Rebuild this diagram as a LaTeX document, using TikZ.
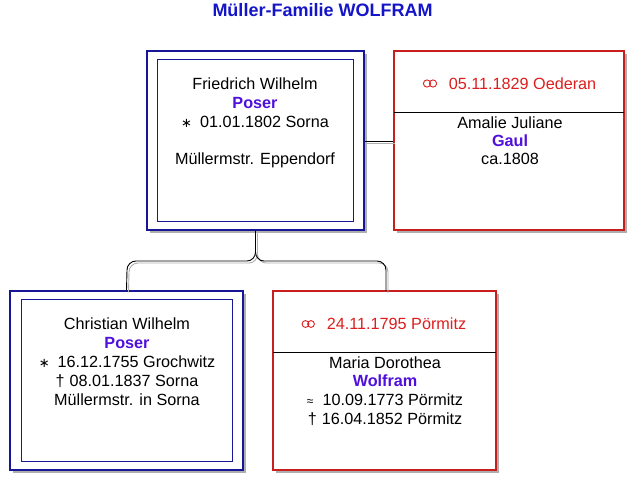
\documentclass[tikz,border=0pt]{standalone}
\usepackage{fontspec}
\setmainfont{Liberation Sans}
\newfontfamily\symf{DejaVu Sans}
\usetikzlibrary{calc}
\definecolor{navyline}{RGB}{22,22,150}
\definecolor{namecol}{RGB}{80,16,220}
\definecolor{redline}{RGB}{200,30,30}
\definecolor{marrcol}{RGB}{222,30,30}
\definecolor{titlecol}{RGB}{20,20,200}
\definecolor{shadowcol}{RGB}{175,175,175}
\tikzset{
  boxshadow/.style={preaction={fill=shadowcol, draw=none, transform canvas={xshift=3pt,yshift=-3pt}}},
  manbox/.style={draw=navyline, line width=1.3pt, fill=white, boxshadow, inner sep=0pt},
  maninner/.style={draw=navyline, line width=1pt, inner sep=0pt},
  wifebox/.style={draw=redline, line width=1.1pt, fill=white, boxshadow, inner sep=0pt},
  txt/.style={font=\fontsize{16.2}{19}\selectfont, anchor=base, inner sep=0pt, text=black},
  nametxt/.style={txt, font=\fontsize{16.2}{19}\selectfont\bfseries, text=namecol},
  marrtxt/.style={txt, text=marrcol},
  ring/.style={draw=marrcol, line width=0.9pt},
  conn/.style={draw=black, line width=0.9pt,
    preaction={draw=shadowcol, line width=0.9pt, transform canvas={xshift=2pt,yshift=-2pt}}},
}
\newcommand{\starsym}{{\symf\fontsize{13}{14}\selectfont ∗}\hspace{8pt}}
\newcommand{\daggersym}{†\hspace{5pt}}
\newcommand{\approxsym}{{\fontsize{12}{14}\selectfont ≈}\hspace{9pt}}
\begin{document}
\begin{tikzpicture}[x=1pt,y=-1pt]
\useasboundingbox (0,0) rectangle (644,490);
\fill[white] (0,0) rectangle (644,490);

% title
\node[anchor=base, inner sep=0pt, font=\fontsize{18}{21}\selectfont\bfseries, text=titlecol] (title) at (322.5,16) {Müller-Familie WOLFRAM};

% boxes
\node[manbox, minimum width=217pt, minimum height=179pt] (A) at (255.5,140.5) {};
\node[maninner, minimum width=196pt, minimum height=162pt] (Ai) at (255,140) {};
\node[wifebox, minimum width=230pt, minimum height=179pt] (B) at (509,140.5) {};
\node[manbox, minimum width=233pt, minimum height=179pt] (C) at (126.5,380.5) {};
\node[maninner, minimum width=211pt, minimum height=162pt] (Ci) at (126.5,380) {};
\node[wifebox, minimum width=223pt, minimum height=179pt] (D) at (384.5,380.5) {};

% dividers in the wife boxes
\coordinate (Bl) at (394,112);
\coordinate (Br) at (624,112);
\draw[black, line width=0.9pt] (Bl) -- (Br);
\coordinate (Dl) at (273,352);
\coordinate (Dr) at (496,352);
\draw[black, line width=0.9pt] (Dl) -- (Dr);

% texts A
\node[txt] (a1) at (255,89) {Friedrich Wilhelm};
\node[nametxt] (a2) at (255,108) {Poser};
\node[txt] (a3) at (255,127) {\starsym 01.01.1802 Sorna};
\node[txt] (a4) at (255,164) {Müllermstr. Eppendorf};

% texts B
\draw[ring] (427,83.5) circle[radius=3.6pt] (433,83.5) circle[radius=3.6pt];
\node[marrtxt] (b0) at (522.5,89) {05.11.1829 Oederan};
\node[txt] (b1) at (510,128) {Amalie Juliane};
\node[nametxt] (b2) at (510,146) {Gaul};
\node[txt] (b3) at (510,164) {ca.1808};

% texts C
\node[txt] (c1) at (127,329) {Christian Wilhelm};
\node[nametxt] (c2) at (127,348) {Poser};
\node[txt] (c3) at (127,367) {\starsym 16.12.1755 Grochwitz};
\node[txt] (c4) at (127,386) {\daggersym 08.01.1837 Sorna};
\node[txt] (c5) at (127,405) {Müllermstr. in Sorna};

% texts D
\draw[ring] (305.5,324) circle[radius=3.4pt] (311,324) circle[radius=3.4pt];
\node[marrtxt] (d0) at (396.5,329) {24.11.1795 Pörmitz};
\node[txt] (d1) at (385,368) {Maria Dorothea};
\node[nametxt] (d2) at (385,386) {Wolfram};
\node[txt] (d3) at (385,405) {\approxsym 10.09.1773 Pörmitz};
\node[txt] (d4) at (385,424) {\daggersym 16.04.1852 Pörmitz};

% marriage connector
\path[conn] (A.east |- 0,141) -- (B.west |- 0,141);

% children connector
\coordinate (jn) at (255.5,252);
\path[conn] (A.south) -- (jn) to[out=-90,in=0] (247,261) -- (136,261) to[out=180,in=90] (127,270) -- (C.north);
\path[conn] (jn) to[out=-90,in=180] (264,261) -- (377,261) to[out=0,in=90] (386,270) -- (386,291);
\end{tikzpicture}
\end{document}
